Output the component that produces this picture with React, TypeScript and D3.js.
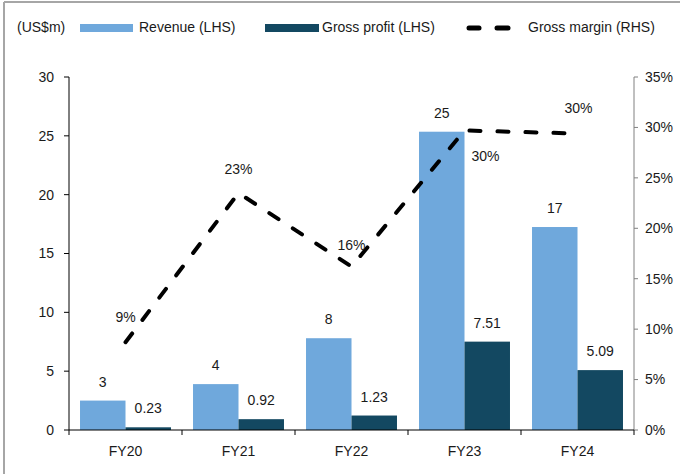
import React from "react";
import * as d3 from "d3";

const categories = ["FY20", "FY21", "FY22", "FY23", "FY24"];
const revenue = [2.5, 3.9, 7.8, 25.35, 17.25];
const revenueLabels = ["3", "4", "8", "25", "17"];
const grossProfit = [0.23, 0.92, 1.23, 7.51, 5.09];
const grossProfitLabels = ["0.23", "0.92", "1.23", "7.51", "5.09"];
const grossMargin = [0.087, 0.235, 0.162, 0.297, 0.294];
const grossMarginLabels = ["9%", "23%", "16%", "30%", "30%"];
const leftTicks = [0, 5, 10, 15, 20, 25, 30];
const rightTicks = [0, 0.05, 0.1, 0.15, 0.2, 0.25, 0.3, 0.35];

// label placement offsets for margin labels (dx, dy relative to point)
const marginLabelOffsets: [number, number][] = [
  [0, -25],
  [0, -24],
  [0, -22],
  [21, 26],
  [1, -25],
];

const W = 680;
const H = 474;
const left = 69;
const right = 634;
const top = 77;
const bottom = 430;
const REV = "#6fa8dc";
const GP = "#134861";
const FONT = "'Liberation Sans', Arial, sans-serif";
const TXT = "#1a1a1a";

export default function App() {
  const x = d3
    .scaleBand<string>()
    .domain(categories)
    .range([left, right])
    .paddingInner(0.195)
    .paddingOuter(0.0975);
  const sub = d3
    .scaleBand<string>()
    .domain(["rev", "gp"])
    .range([0, x.bandwidth()])
    .padding(0);
  const yL = d3.scaleLinear().domain([0, 30]).range([bottom, top]);
  const yR = d3.scaleLinear().domain([0, 0.35]).range([bottom, top]);
  const pct = d3.format(".0%");

  const cx = (c: string) => (x(c) as number) + x.bandwidth() / 2;
  const line = d3
    .line<number>()
    .x((_, i) => cx(categories[i]))
    .y((d) => yR(d));

  const step = x.step();
  const boundaries = d3.range(categories.length + 1).map((i) => left + i * step);

  return (
    <svg
      width={W}
      height={H}
      style={{ position: "absolute", left: 0, top: 0, background: "#fff" }}
      fontFamily={FONT}
      fontSize={14}
    >
      <rect x={0} y={0} width={W} height={H} fill="#fff" />
      {/* frame */}
      <line x1={4} y1={2} x2={W} y2={2} stroke="#a6a6a6" strokeWidth={2} />
      <line x1={4} y1={2} x2={4} y2={H} stroke="#a6a6a6" strokeWidth={2} />

      {/* legend */}
      <text x={17} y={32} fill={TXT}>(US$m)</text>
      <rect x={80} y={24} width={53} height={8} fill={REV} />
      <text x={139} y={32} fill={TXT}>Revenue (LHS)</text>
      <rect x={265} y={24} width={54} height={8} fill={GP} />
      <text x={322} y={32} fill={TXT}>Gross profit (LHS)</text>
      <line x1={469} y1={28} x2={479} y2={28} stroke="#000" strokeWidth={5} strokeLinecap="round" />
      <line x1={497} y1={28} x2={508} y2={28} stroke="#000" strokeWidth={5} strokeLinecap="round" />
      <text x={528} y={32} fill={TXT}>Gross margin (RHS)</text>

      {/* bars */}
      {categories.map((c, i) => {
        const x0 = x(c) as number;
        const xr = x0 + (sub("rev") as number);
        const xg = x0 + (sub("gp") as number);
        const bw = sub.bandwidth();
        return (
          <g key={c}>
            <rect x={xr} y={yL(revenue[i])} width={bw} height={bottom - yL(revenue[i])} fill={REV} />
            <rect x={xg} y={yL(grossProfit[i])} width={bw} height={bottom - yL(grossProfit[i])} fill={GP} />
            <text x={xr + bw / 2} y={yL(revenue[i]) - 14} textAnchor="middle" fill={TXT}>
              {revenueLabels[i]}
            </text>
            <text x={xg + bw / 2} y={yL(grossProfit[i]) - 14} textAnchor="middle" fill={TXT}>
              {grossProfitLabels[i]}
            </text>
          </g>
        );
      })}

      {/* left axis */}
      <line x1={left} y1={top} x2={left} y2={bottom} stroke="#000" strokeWidth={1} />
      {leftTicks.map((t) => (
        <g key={"l" + t}>
          <line x1={left - 5} x2={left} y1={yL(t)} y2={yL(t)} stroke="#000" />
          <text x={54} y={yL(t)} dy="0.35em" textAnchor="end" fill={TXT}>
            {t}
          </text>
        </g>
      ))}

      {/* right axis */}
      <line x1={right} y1={top} x2={right} y2={bottom} stroke="#808080" strokeWidth={1} />
      {rightTicks.map((t) => (
        <g key={"r" + t}>
          <line x1={right} x2={right + 4} y1={yR(t)} y2={yR(t)} stroke="#808080" />
          <text x={645} y={yR(t)} dy="0.35em" textAnchor="start" fill={TXT}>
            {pct(t)}
          </text>
        </g>
      ))}

      {/* x axis */}
      <line x1={left} y1={bottom} x2={right} y2={bottom} stroke="#000" strokeWidth={1} />
      {boundaries.map((b, i) => (
        <line key={"xb" + i} x1={b} x2={b} y1={bottom} y2={bottom + 5} stroke="#000" />
      ))}
      {categories.map((c) => (
        <text key={"xl" + c} x={cx(c)} y={456} textAnchor="middle" fill={TXT}>
          {c}
        </text>
      ))}

      {/* margin line */}
      <path
        d={line(grossMargin) || ""}
        fill="none"
        stroke="#000"
        strokeWidth={4}
        strokeDasharray="11 17"
        strokeLinecap="round"
        strokeLinejoin="round"
      />
      {grossMargin.map((m, i) => (
        <text
          key={"ml" + i}
          x={cx(categories[i]) + marginLabelOffsets[i][0]}
          y={yR(m) + marginLabelOffsets[i][1]}
          dy="0.35em"
          textAnchor="middle"
          fill={TXT}
        >
          {grossMarginLabels[i]}
        </text>
      ))}
    </svg>
  );
}
